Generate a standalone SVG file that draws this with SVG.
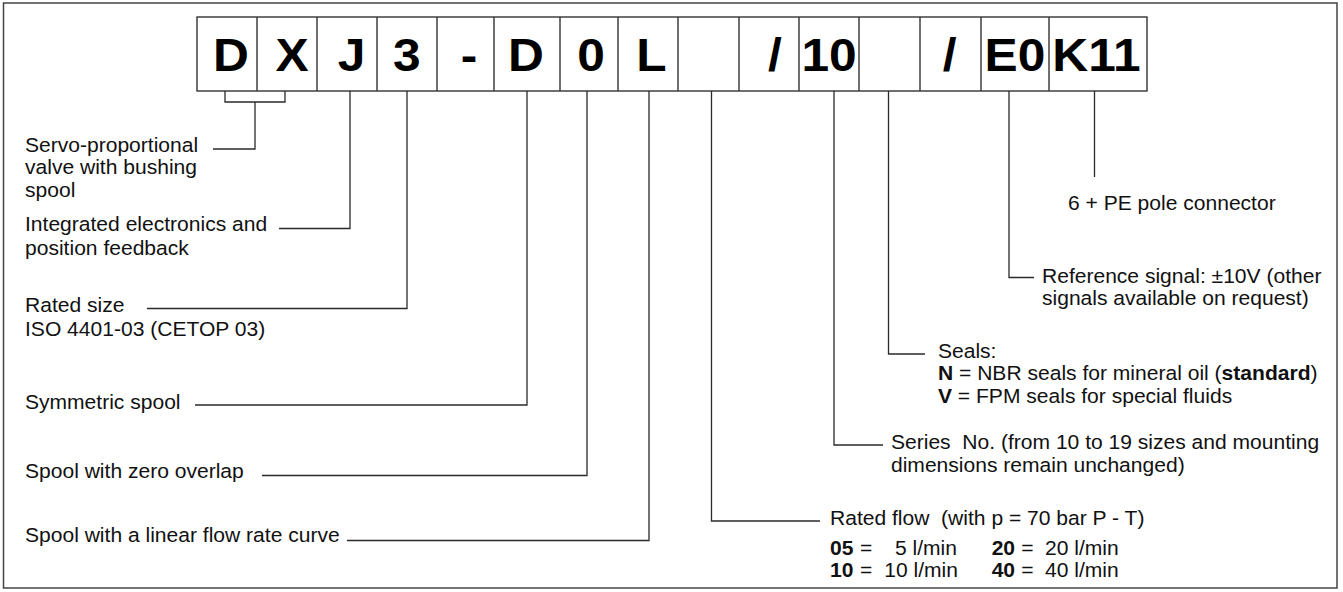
<svg xmlns="http://www.w3.org/2000/svg" width="1343" height="592" viewBox="0 0 1343 592">
<style>
.frame{fill:#fff;stroke:#444;stroke-width:1.5}
.cell{fill:#fff;stroke:#333;stroke-width:1.4}
.div{stroke:#333;stroke-width:1.4}
.con{fill:none;stroke:#2a2a2a;stroke-width:1.3}
.code{font-family:"Liberation Sans",Arial,sans-serif;font-weight:bold;font-size:46px;fill:#000;text-anchor:middle}
.lbl{font-family:"Liberation Sans",Arial,sans-serif;font-size:19.5px;fill:#111}
.b{font-weight:bold}
</style>
<rect class="frame" x="3.5" y="3" width="1333.5" height="585"/>
<g id="code-boxes">
<rect class="cell" x="197" y="17" width="950" height="74"/>
<path class="div" d="M257,17V91M317,17V91M377,17V91M437,17V91M494,17V91M560,17V91M618,17V91M678,17V91M739,17V91M799,17V91M859,17V91M920,17V91M981,17V91M1049,17V91"/>
<g transform="scale(1.08 1)">
<text class="code" x="213.9" y="71">D</text>
<text class="code" x="270.4" y="71">X</text>
<text class="code" x="325.5" y="71">J</text>
<text class="code" x="376.6" y="71">3</text>
<text class="code" x="434.3" y="71">-</text>
<text class="code" x="487.0" y="71">D</text>
<text class="code" x="547.2" y="71">0</text>
<text class="code" x="603.2" y="71">L</text>
<text class="code" x="717.6" y="71">/</text>
<text class="code" x="767.6" y="71">10</text>
<text class="code" x="879.2" y="71">/</text>
<text class="code" x="939.8" y="71">E0</text>
<text class="code" x="1015.3" y="71">K11</text>
</g>
</g>
<g id="connectors">
<path class="con" d="M225,91V102H285V91M255,102V149H213"/>
<path class="con" d="M350,91V228.5H279"/>
<path class="con" d="M407,91V308.5H147"/>
<path class="con" d="M527,91V405H195"/>
<path class="con" d="M587,91V475.5H262"/>
<path class="con" d="M649,91V540.5H347"/>
<path class="con" d="M711.5,91V521H820"/>
<path class="con" d="M834,91V445H883"/>
<path class="con" d="M888.5,91V354H925"/>
<path class="con" d="M1009,91V277.5H1034"/>
<path class="con" d="M1094.5,91V177"/>
</g>
<g id="lbl-servo"><text class="lbl" transform="scale(1.08 1)"><tspan x="23.15" y="152">Servo-proportional</tspan><tspan x="23.15" y="174.5">valve with bushing</tspan><tspan x="23.15" y="197">spool</tspan></text></g>
<g id="lbl-electronics"><text class="lbl" transform="scale(1.08 1)"><tspan x="23.15" y="231.5">Integrated electronics and</tspan><tspan x="23.15" y="255.5">position feedback</tspan></text></g>
<g id="lbl-size"><text class="lbl" transform="scale(1.08 1)"><tspan x="23.15" y="312.5">Rated size</tspan><tspan x="23.15" y="336.5">ISO 4401-03 (CETOP 03)</tspan></text></g>
<g id="lbl-symmetric"><text class="lbl" transform="scale(1.08 1)" x="23.15" y="409">Symmetric spool</text></g>
<g id="lbl-overlap"><text class="lbl" transform="scale(1.08 1)" x="23.15" y="478.5">Spool with zero overlap</text></g>
<g id="lbl-linear"><text class="lbl" transform="scale(1.08 1)" x="23.15" y="542.5">Spool with a linear flow rate curve</text></g>
<g id="lbl-connector"><text class="lbl" transform="scale(1.08 1)" x="988.9" y="210">6 + PE pole connector</text></g>
<g id="lbl-signal"><text class="lbl" transform="scale(1.08 1)"><tspan x="964.8" y="283">Reference signal: ±10V (other</tspan><tspan x="964.8" y="305.5">signals available on request)</tspan></text></g>
<g id="lbl-seals"><text class="lbl" transform="scale(1.08 1)"><tspan x="868.5" y="358">Seals:</tspan><tspan x="868.5" y="380.5"><tspan class="b">N</tspan> = NBR seals for mineral oil (<tspan class="b">standard</tspan>)</tspan><tspan x="868.5" y="403"><tspan class="b">V</tspan> = FPM seals for special fluids</tspan></text></g>
<g id="lbl-series"><text class="lbl" transform="scale(1.08 1)"><tspan x="825" y="449" xml:space="preserve">Series  No. (from 10 to 19 sizes and mounting</tspan><tspan x="825" y="472">dimensions remain unchanged)</tspan></text></g>
<g id="lbl-flow"><text class="lbl" transform="scale(1.08 1)"><tspan x="768.5" y="525.5" xml:space="preserve">Rated flow  (with p = 70 bar P - T)</tspan><tspan class="b" x="768.5" y="555">05</tspan><tspan x="796.3" y="555">=</tspan><tspan x="828.7" y="555">5 l/min</tspan><tspan class="b" x="918.2" y="555">20</tspan><tspan x="945.5" y="555">=</tspan><tspan x="967.6" y="555">20 l/min</tspan><tspan class="b" x="768.5" y="577">10</tspan><tspan x="796.3" y="577">=</tspan><tspan x="818.8" y="577">10 l/min</tspan><tspan class="b" x="918.2" y="577">40</tspan><tspan x="945.5" y="577">=</tspan><tspan x="967.6" y="577">40 l/min</tspan></text></g>
</svg>
